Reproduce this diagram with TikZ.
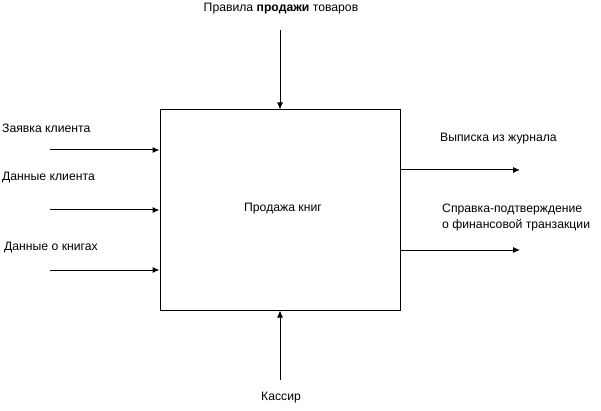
\documentclass[tikz,border=0pt]{standalone}
\usepackage{fontspec}
\setmainfont{Liberation Sans}
\usetikzlibrary{arrows.meta}
\begin{document}
\begin{tikzpicture}[x=1pt,y=-1pt,
  lbl/.style={inner sep=0pt,font=\fontsize{12.2}{16}\selectfont},
  flow/.style={line width=1pt,-{Latex[length=7pt,width=6pt]}},
  box/.style={draw,line width=1pt,minimum width=240pt,minimum height=200pt,inner sep=0pt}]
\useasboundingbox (0,0) rectangle (601,411);
\node[box] (main) at (280,210) {};
\node[lbl] (mtext) at (283,209) {Продажа книг};
% inputs
\coordinate (i1) at (50,150);
\coordinate (i2) at (50,210);
\coordinate (i3) at (50,270);
\draw[flow] (i1) -- (main.west |- i1);
\draw[flow] (i2) -- (main.west |- i2);
\draw[flow] (i3) -- (main.west |- i3);
\node[lbl,anchor=west] (l1) at (2,128) {Заявка клиента};
\node[lbl,anchor=west] (l2) at (2,178) {Данные клиента};
\node[lbl,anchor=west] (l3) at (4,248) {Данные о книгах};
% outputs
\coordinate (o1) at (520,170);
\coordinate (o2) at (520,250);
\draw[flow] (main.east |- o1) -- (o1);
\draw[flow] (main.east |- o2) -- (o2);
\node[lbl,anchor=west] (r1) at (440,139) {Выписка из журнала};
\node[lbl,anchor=west,align=left] (r2) at (442,218) {Справка-подтверждение\\о финансовой транзакции};
% control
\coordinate (c1) at (280,30);
\draw[flow] (c1) -- (main.north);
\node[lbl] (ct) at (281,9) {Правила \textbf{продажи} товаров};
% mechanism
\coordinate (m1) at (280,380);
\draw[flow] (m1) -- (main.south);
\node[lbl] (mt) at (281,398) {Кассир};
\end{tikzpicture}
\end{document}
